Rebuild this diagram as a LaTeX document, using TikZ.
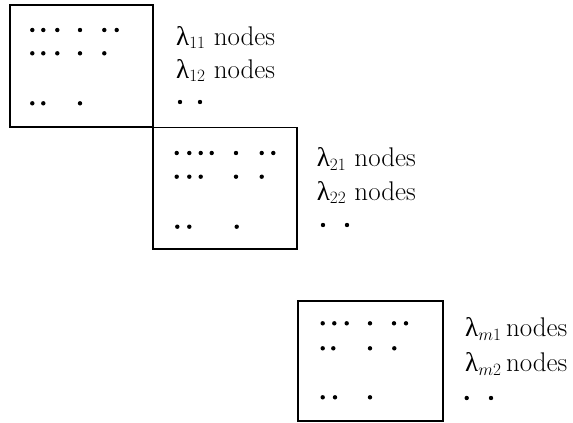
\documentclass[tikz,border=0pt]{standalone}
\usepackage{fontspec}
\newfontfamily\grk{Liberation Serif}
\begin{document}
\begin{tikzpicture}[x=1pt,y=-1pt,
  blockbox/.style={draw=black,line width=1.6pt,inner sep=0pt,fill=none},
  lbl/.style={anchor=base west,inner sep=0pt,font=\fontsize{27}{32}\selectfont},
  dotmark/.style={circle,fill=black,inner sep=0pt,minimum size=4.4pt}]
\useasboundingbox (0,0) rectangle (573,423);
% blocks
\node[blockbox,minimum width=143pt,minimum height=122pt] (b1) at (81.5,66.25) {};
\node[blockbox,minimum width=144pt,minimum height=121.5pt] (b2) at (225,188.25) {};
\node[blockbox,minimum width=145pt,minimum height=120pt] (b3) at (370.5,361) {};
% dots in block 1
\foreach \x [count=\i] in {32.3,43.3,57.3,80,104.3,116.7} \node[dotmark] (d1a\i) at (\x,30) {};
\foreach \x [count=\i] in {32.3,43.3,57.3,80,104.3} \node[dotmark] (d1b\i) at (\x,53.3) {};
\foreach \x [count=\i] in {32.3,43.3,80} \node[dotmark] (d1c\i) at (\x,103.3) {};
% dots in block 2
\foreach \x [count=\i] in {176.7,189.3,200.7,211.7,236,261.7,273.3} \node[dotmark] (d2a\i) at (\x,153) {};
\foreach \x [count=\i] in {176.7,189.3,200.7,236,261.7} \node[dotmark] (d2b\i) at (\x,176.7) {};
\foreach \x [count=\i] in {177.3,189.3,236.7} \node[dotmark] (d2c\i) at (\x,226.7) {};
% dots in block 3
\foreach \x [count=\i] in {322.7,334.3,346.7,370,394,406} \node[dotmark] (d3a\i) at (\x,323.3) {};
\foreach \x [count=\i] in {322.7,333.3,370,394.3} \node[dotmark] (d3b\i) at (\x,348.3) {};
\foreach \x [count=\i] in {322.7,335,370} \node[dotmark] (d3c\i) at (\x,397.3) {};
% labels block 1
\node[lbl] (t11) at (176,45) {{\grk λ}$_{11}$ nodes};
\node[lbl] (t12) at (176,78) {{\grk λ}$_{12}$ nodes};
\node[dotmark] (e1a) at (180,102) {};
\node[dotmark] (e1b) at (200,102) {};
% labels block 2
\node[lbl] (t21) at (316.7,166.7) {{\grk λ}$_{21}$ nodes};
\node[lbl] (t22) at (316.7,200) {{\grk λ}$_{22}$ nodes};
\node[dotmark] (e2a) at (323,225) {};
\node[dotmark] (e2b) at (347,225) {};
% labels block 3
\node[lbl] (t31) at (465,336.7) {{\grk λ}$_{m1}$\,nodes};
\node[lbl] (t32) at (465,371.7) {{\grk λ}$_{m2}$\,nodes};
\node[dotmark] (e3a) at (466.7,398) {};
\node[dotmark] (e3b) at (491,398) {};
\end{tikzpicture}
\end{document}
